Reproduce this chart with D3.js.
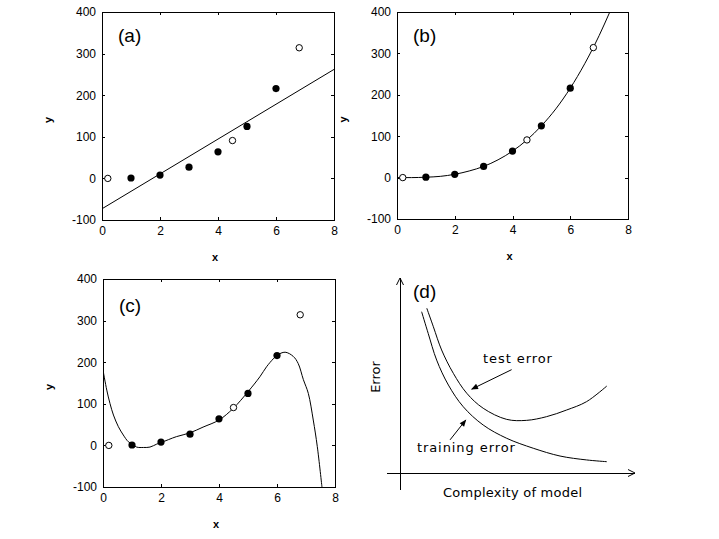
<!DOCTYPE html>
<html>
<head>
<meta charset="utf-8">
<script src="https://cdn.jsdelivr.net/npm/d3@7"></script>
<style>
  html, body { margin: 0; padding: 0; background: #fff; }
  svg { display: block; }
  .tick text { font-family: "Liberation Sans", Arial, sans-serif; font-size: 12px; fill: #000; }
  .lbl { font-family: "Liberation Sans", Arial, sans-serif; font-weight: bold; font-size: 11px; }
  .tag { font-family: "Liberation Sans", Arial, sans-serif; font-size: 19px; }
  .note { font-family: "DejaVu Sans", sans-serif; font-size: 13px; fill: #000; }
</style>
</head>
<body>
<script>
// tick values shared by panels a, b, c
const xTicks = [0, 2, 4, 6, 8];
const yTicks = [-100, 0, 100, 200, 300, 400];

// training points (filled) and test points (open)
const trainX = [1, 2, 3, 4, 5, 6];
const trainY = [1, 8, 27, 64, 125, 216];
const testX = [0.2, 4.5, 6.8];
const testY = [0, 91, 314];

// (a) straight-line fit
const lineFitX = [0, 8];
const lineFitY = [-73, 262];

// (b) cubic fit
const cubicFitX = [0, 0.5, 1, 1.5, 2, 2.5, 3, 3.5, 4, 4.5, 5, 5.5, 6, 6.5, 7, 7.37];
const cubicFitY = [0, 0, 1, 3, 8, 16, 27, 43, 64, 91, 125, 166, 216, 275, 343, 400];

// (c) high order fit
const polyFitX = [0, 0.13, 0.24, 0.36, 0.53, 0.70, 0.87, 1.01, 1.16, 1.40, 1.62, 1.85, 2.01, 2.53, 2.99, 3.45, 4.0, 4.49, 5.0, 5.41, 5.64, 5.87, 6.01, 6.28, 6.56, 6.73, 6.91, 7.08, 7.25, 7.39, 7.55];
const polyFitY = [181, 133, 101, 73, 45, 25, 9, 3, -4, -5, -4, 3, 7, 21, 30, 44, 61, 89, 129, 165, 189, 208, 217, 224, 214, 197, 158, 125, 61, -3, -100];

// (d) error curves vs complexity
const testErrX = [1.14, 1.42, 1.77, 2.27, 2.84, 3.54, 4.54, 5.39, 6.24, 7.09, 7.94, 8.80];
const testErrY = [8.45, 7.50, 6.31, 5.11, 4.09, 3.32, 2.75, 2.70, 2.89, 3.23, 3.66, 4.46];
const trainErrX = [0.92, 1.20, 1.56, 2.06, 2.69, 3.54, 4.54, 5.67, 6.81, 7.94, 8.80];
const trainErrY = [8.27, 7.16, 5.79, 4.51, 3.40, 2.46, 1.78, 1.27, 0.87, 0.67, 0.58];

const svg = d3.select('body').append('svg')
    .attr('width', 719)
    .attr('height', 539);

const defs = svg.append('defs');
defs.append('marker')
    .attr('id', 'head')
    .attr('viewBox', '0 0 10 10')
    .attr('refX', 9).attr('refY', 5)
    .attr('markerWidth', 8).attr('markerHeight', 7)
    .attr('markerUnits', 'userSpaceOnUse')
    .attr('orient', 'auto')
    .append('path')
    .attr('d', 'M0,1 L10,5 L0,9 Z')
    .attr('fill', '#000');

// 패널 그리기 (a, b, c)
function drawPanel(box, tag, fitX, fitY, curve) {
    const x = d3.scaleLinear().domain([0, 8]).range([box.left, box.left + box.width]);
    const y = d3.scaleLinear().domain([-100, 400]).range([box.top + box.height, box.top]);

    const clipId = 'clip-' + tag;
    defs.append('clipPath').attr('id', clipId)
        .append('rect')
        .attr('x', box.left).attr('y', box.top)
        .attr('width', box.width).attr('height', box.height);

    // inward ticks on all four sides
    const fmt = d => String(d);
    const axes = [
        { a: d3.axisBottom(x).tickValues(xTicks), t: `translate(0,${box.top + box.height})`, labels: true },
        { a: d3.axisLeft(y).tickValues(yTicks), t: `translate(${box.left},0)`, labels: true },
        { a: d3.axisTop(x).tickValues(xTicks), t: `translate(0,${box.top})`, labels: false },
        { a: d3.axisRight(y).tickValues(yTicks), t: `translate(${box.left + box.width},0)`, labels: false }
    ];
    axes.forEach(ax => {
        const g = svg.append('g')
            .attr('transform', ax.t)
            .call(ax.a.tickFormat(fmt).tickSize(-3).tickPadding(6).tickSizeOuter(0));
        g.select('.domain').remove();
        g.selectAll('.tick line').attr('stroke', '#000').attr('shape-rendering', 'crispEdges');
        if (!ax.labels) g.selectAll('.tick text').remove();
    });

    svg.append('rect')
        .attr('x', box.left).attr('y', box.top)
        .attr('width', box.width).attr('height', box.height)
        .attr('fill', 'none').attr('stroke', '#000')
        .attr('shape-rendering', 'crispEdges');

    // fitted curve
    const line = d3.line().x(d => x(d[0])).y(d => y(d[1])).curve(curve);
    svg.append('path')
        .attr('clip-path', `url(#${clipId})`)
        .attr('d', line(d3.zip(fitX, fitY)))
        .attr('fill', 'none').attr('stroke', '#000').attr('stroke-width', 1);

    svg.append('g').selectAll('circle')
        .data(d3.zip(trainX, trainY))
        .enter().append('circle')
        .attr('cx', d => x(d[0])).attr('cy', d => y(d[1]))
        .attr('r', 3.6).attr('fill', '#000');

    svg.append('g').selectAll('circle')
        .data(d3.zip(testX, testY))
        .enter().append('circle')
        .attr('cx', d => x(d[0])).attr('cy', d => y(d[1]))
        .attr('r', 3.2).attr('fill', '#fff').attr('stroke', '#000').attr('stroke-width', 1);

    svg.append('text').attr('class', 'tag')
        .attr('x', box.left + 16).attr('y', tag === 'c' ? box.top + 33 : box.top + 30)
        .text(`(${tag})`);

    svg.append('text').attr('class', 'lbl')
        .attr('x', box.left + box.width / 2 - 3).attr('y', box.top + box.height + 41)
        .attr('text-anchor', 'middle')
        .text('x');

    svg.append('text').attr('class', 'lbl')
        .attr('transform', `translate(${box.left - 50},${box.top + box.height / 2 + 4}) rotate(-90)`)
        .attr('text-anchor', 'middle')
        .text('y');
}

drawPanel({ left: 102, top: 12, width: 232, height: 208 }, 'a', lineFitX, lineFitY, d3.curveLinear);
drawPanel({ left: 397, top: 12, width: 231, height: 207 }, 'b', cubicFitX, cubicFitY, d3.curveMonotoneX);
drawPanel({ left: 103, top: 279, width: 232, height: 208 }, 'c', polyFitX, polyFitY, d3.curveCatmullRom.alpha(0.5));

// 패널 (d): 오차 곡선
const dx = d3.scaleLinear().domain([0, 10]).range([400, 635]);
const dy = d3.scaleLinear().domain([0, 10]).range([473, 278]);

const axisG = svg.append('g').attr('stroke', '#000').attr('fill', 'none');
axisG.append('line')
    .attr('x1', dx(0)).attr('y1', 490).attr('x2', dx(0)).attr('y2', dy(10))
    .attr('shape-rendering', 'crispEdges');
axisG.append('path')
    .attr('d', `M${dx(0) - 3.5},${dy(10) + 7} L${dx(0)},${dy(10)} L${dx(0) + 3.5},${dy(10) + 7}`);
axisG.append('line')
    .attr('x1', 387).attr('y1', dy(0)).attr('x2', dx(10)).attr('y2', dy(0))
    .attr('shape-rendering', 'crispEdges');
axisG.append('path')
    .attr('d', `M${dx(10) - 7},${dy(0) - 3.5} L${dx(10)},${dy(0)} L${dx(10) - 7},${dy(0) + 3.5}`);

const errLine = d3.line().x(d => dx(d[0])).y(d => dy(d[1])).curve(d3.curveCatmullRom.alpha(0.5));
svg.append('path')
    .attr('d', errLine(d3.zip(testErrX, testErrY)))
    .attr('fill', 'none').attr('stroke', '#000');
svg.append('path')
    .attr('d', errLine(d3.zip(trainErrX, trainErrY)))
    .attr('fill', 'none').attr('stroke', '#000');

// annotation arrows
svg.append('line')
    .attr('x1', dx(4.75)).attr('y1', dy(5.3)).attr('x2', dx(3.05)).attr('y2', dy(4.3))
    .attr('stroke', '#000').attr('marker-end', 'url(#head)');
svg.append('line')
    .attr('x1', dx(2.13)).attr('y1', dy(1.7)).attr('x2', dx(2.8)).attr('y2', dy(2.72))
    .attr('stroke', '#000').attr('marker-end', 'url(#head)');

svg.append('text').attr('class', 'tag')
    .attr('x', 413).attr('y', 298)
    .text('(d)');

svg.append('text').attr('class', 'note')
    .attr('x', dx(3.53)).attr('y', 363)
    .attr('textLength', 69).attr('lengthAdjust', 'spacing')
    .text('test error');
svg.append('text').attr('class', 'note')
    .attr('x', dx(0.72)).attr('y', 452)
    .attr('textLength', 98).attr('lengthAdjust', 'spacing')
    .text('training error');
svg.append('text').attr('class', 'note')
    .attr('x', 443).attr('y', 497)
    .attr('textLength', 139).attr('lengthAdjust', 'spacing')
    .text('Complexity of model');
svg.append('text').attr('class', 'note')
    .attr('transform', 'translate(380,377) rotate(-90)')
    .attr('text-anchor', 'middle')
    .text('Error');
</script>
</body>
</html>
